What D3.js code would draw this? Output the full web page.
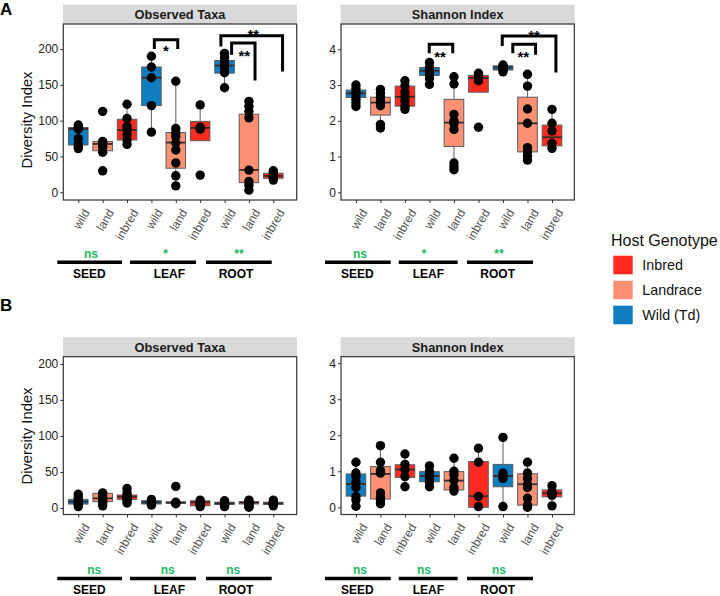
<!DOCTYPE html>
<html><head><meta charset="utf-8">
<script src="https://cdn.jsdelivr.net/npm/d3@7"></script>
<style>body{margin:0;background:#fff} svg{display:block;font-family:"Liberation Sans",Arial,sans-serif}</style>
</head><body><svg id="c" width="720" height="596"></svg>
<script>
// ---------- data ----------
const categories = ["wild","land","inbred","wild","land","inbred","wild","land","inbred"];
const tissues = ["SEED","LEAF","ROOT"];
const legendLabels = ["Inbred","Landrace","Wild (Td)"];
const legendKeys = ["inbred","land","wild"];
const panelTitles = ["Observed Taxa","Shannon Index"];
const obsTicks = [0,50,100,150,200];
const shanTicks = [0,1,2,3,4];
const sigA = ["ns","*","**"];
const sigB = ["ns","ns","ns"];

// Panel A – Observed Taxa
const aObsQ1  = [66, 58, 73, 121, 33.6, 72, 166.4, 13.4, 19.6];
const aObsMed = [88.5, 67.5, 87, 160, 69.4, 90, 177, 31.2, 22.8];
const aObsQ3  = [90.5, 71, 102, 175, 83.4, 99, 184, 109, 26.6];
const aObsLo  = [61, 56, 67, 84, 9, 72, 146, 3, 17];
const aObsHi  = [94, 71, 123, 190, 155, 122, 194, 127, 30];
const aObsPts = [[94,91,88,75,68,64,61],[113,71,68,66,63,56,30],[123,103,92,87,80,73,67],
  [190,175,160,121,84],[155,89,83,78,69,59,41,23,9],[122,91,88,24],
  [194,188,181,176,170,167,146],[127,120,113,104,31,15,10,3],[30,27,24,22,20,17]];
const aObsBrackets = [
  {x1:4.12,x2:5.08,top:213,l1:200,l2:200,label:"*",tx:4.59,ty:201.8},
  {x1:6.85,x2:9.38,top:218.6,l1:203.6,l2:168.7,label:"**",tx:8.18,ty:224.6},
  {x1:7.29,x2:8.25,top:208.4,l1:192,l2:156,label:"**",tx:7.81,ty:195}];

// Panel A – Shannon
const aShQ1  = [2.65, 2.16, 2.41, 3.27, 1.28, 2.8, 3.42, 1.13, 1.3];
const aShMed = [2.77, 2.51, 2.67, 3.4, 1.95, 3.2, 3.49, 1.93, 1.54];
const aShQ3  = [2.86, 2.66, 2.97, 3.49, 2.6, 3.27, 3.54, 2.66, 1.88];
const aShLo  = [2.4, 1.8, 2.32, 3.02, 0.63, 2.8, 3.37, 0.9, 1.23];
const aShHi  = [3.0, 2.88, 3.12, 3.63, 3.23, 3.33, 3.56, 3.3, 2.32];
const aShPts = [[3.0,2.9,2.8,2.7,2.6,2.5,2.4],[2.88,2.77,2.66,2.58,2.5,2.42,1.9,1.8],
  [3.12,2.98,2.8,2.67,2.55,2.41,2.32],[3.63,3.5,3.42,3.35,3.28,3.18,3.02],
  [3.23,3.03,2.18,2.0,1.92,1.76,0.82,0.72,0.63],[3.33,3.25,3.12,1.82],
  [3.56,3.52,3.49,3.46,3.42,3.37],[3.3,2.97,2.33,1.93,1.25,1.13,1.02,0.9],[2.32,1.93,1.72,1.37,1.23]];
const aShBrackets = [
  {x1:3.99,x2:4.95,top:4.14,l1:3.89,l2:3.89,label:"**",tx:4.43,ty:3.89},
  {x1:6.97,x2:9.16,top:4.37,l1:4.09,l2:3.35,label:"**",tx:8.27,ty:4.48},
  {x1:7.4,x2:8.33,top:4.14,l1:3.89,l2:3.85,label:"**",tx:7.83,ty:3.89}];

// Panel B – Observed Taxa
const bObsQ1  = [5.5, 8.8, 12, 5.6, 6.5, 3.2, 5, 5.6, 5];
const bObsMed = [8.8, 13.4, 15.7, 7.9, 7.5, 7.9, 6.5, 7.5, 6.5];
const bObsQ3  = [12, 20.4, 18, 10.2, 8.5, 10, 8, 8.8, 8];
const bObsLo  = [2, 3, 7, 3, 6, 2, 2, 1, 3];
const bObsHi  = [19, 21, 27, 12, 8.5, 11, 10, 11, 11];
const bObsPts = [[19,15,12,9,7,5,2],[21,18,15,12,10,7,3],[27,21,17,15,12,10,7],[12,9,8,6,4],
  [30,8,7,7,6],[11,8,6,4,2],[10,8,7,6,5,3,2],[11,9,8,7,6,4,2,1],[11,8,7,6,5,3]];

// Panel B – Shannon
const bShQ1  = [0.31, 0.23, 0.83, 0.71, 0.48, 0.0, 0.57, 0.06, 0.29];
const bShMed = [0.65, 0.925, 1.05, 0.87, 0.74, 0.31, 0.87, 0.64, 0.39];
const bShQ3  = [0.925, 1.13, 1.18, 0.99, 0.99, 1.27, 1.19, 0.93, 0.48];
const bShLo  = [0.03, 0.1, 0.57, 0.57, 0.45, 0.0, 0.02, 0.0, 0.04];
const bShHi  = [1.25, 1.71, 1.48, 1.15, 1.36, 1.64, 1.94, 1.25, 0.64];
const bShPts = [[1.25,0.95,0.85,0.7,0.55,0.3,0.2,0.03],[1.71,1.25,1.02,0.95,0.4,0.28,0.2,0.1],
  [1.48,1.19,1.05,0.85,0.57],[1.15,0.99,0.9,0.8,0.7,0.57],[1.36,1.0,0.9,0.75,0.55,0.45],
  [1.64,1.25,0.3,0.02],[1.94,0.95,0.88,0.8,0.02],[1.25,0.95,0.8,0.64,0.55,0.25,0.06,0.0],
  [0.6,0.45,0.38,0.33,0.04]];

// ---------- style ----------
const colors = {wild:"#0F7EC0", land:"#FE9173", inbred:"#FF2B20"};
const sigGreen = "#1DB863";
const FONT = "Liberation Sans, Arial, sans-serif";
const svg = d3.select("#c");

function drawPanel(o){
  const x = d3.scaleLinear().domain(o.xDomain).range([o.left, o.right]);
  const y = d3.scaleLinear().domain(o.yDomain).range([o.bottom, o.top]);
  const g = svg.append("g");
  // strip
  g.append("rect").attr("x",o.left).attr("y",o.top-19).attr("width",o.right-o.left).attr("height",19)
    .attr("fill","#D9D9D9").attr("stroke","#cfcfcf").attr("stroke-width",0.5);
  g.append("text").attr("x",(o.left+o.right)/2).attr("y",o.top-9.5).attr("dy","0.36em")
    .attr("text-anchor","middle").attr("font-size",12.8).attr("font-weight","bold").attr("fill","#1a1a1a").text(o.title);
  // y axis
  const ya = g.append("g").attr("transform",`translate(${o.left},0)`)
    .call(d3.axisLeft(y).tickValues(o.ticks).tickSize(3).tickPadding(2).tickFormat(d3.format("d")));
  ya.select(".domain").remove();
  ya.selectAll("line").attr("stroke","#333");
  ya.selectAll("text").attr("font-size",12).attr("fill","#222").attr("font-family",FONT);
  // x axis
  const idx = categories.map((c,i)=>i+1);
  const xa = g.append("g").attr("transform",`translate(0,${o.bottom})`)
    .call(d3.axisBottom(x).tickValues(idx).tickSize(3).tickFormat(i=>categories[i-1]));
  xa.select(".domain").remove();
  xa.selectAll("line").attr("stroke","#333");
  xa.selectAll("text").attr("font-size",12).attr("fill","#555").attr("font-family",FONT)
    .attr("text-anchor","end").attr("y",null)
    .attr("transform","translate(4,8) rotate(-60)").attr("dy","0.7em");
  const bw = 0.8*(x(2)-x(1));
  // whiskers
  idx.forEach((p,i)=>{
    g.append("line").attr("x1",x(p)).attr("x2",x(p)).attr("y1",y(o.hi[i])).attr("y2",y(o.q3[i])).attr("stroke","#6b6b6b").attr("stroke-width",1.1);
    g.append("line").attr("x1",x(p)).attr("x2",x(p)).attr("y1",y(o.lo[i])).attr("y2",y(o.q1[i])).attr("stroke","#6b6b6b").attr("stroke-width",1.1);
  });
  g.selectAll(".box").data(idx).enter().append("rect")
    .attr("x",p=>x(p)-bw/2).attr("width",bw)
    .attr("y",(p,i)=>y(o.q3[i])).attr("height",(p,i)=>Math.max(0.5,y(o.q1[i])-y(o.q3[i])))
    .attr("fill",(p,i)=>colors[categories[i]]).attr("stroke","#5a5a5a").attr("stroke-width",1);
  g.selectAll(".med").data(idx).enter().append("line")
    .attr("x1",p=>x(p)-bw/2).attr("x2",p=>x(p)+bw/2)
    .attr("y1",(p,i)=>y(o.med[i])).attr("y2",(p,i)=>y(o.med[i]))
    .attr("stroke","#3a2a2a").attr("stroke-width",1.8);
  idx.forEach((p,i)=>{
    g.selectAll(null).data(o.pts[i]).enter().append("circle")
      .attr("cx",x(p)).attr("cy",d=>y(d)).attr("r",4.7).attr("fill","#000");
  });
  // brackets
  (o.brackets||[]).forEach(b=>{
    const path = `M${x(b.x1)},${y(b.l1)}V${y(b.top)}H${x(b.x2)}V${y(b.l2)}`;
    g.append("path").attr("d",path).attr("fill","none").attr("stroke","#000").attr("stroke-width",3);
    g.append("text").attr("x",x(b.tx)).attr("y",y(b.ty)+8.7).attr("text-anchor","middle")
      .attr("font-size",15).attr("font-weight","bold").text(b.label);
  });
  // frame
  g.append("rect").attr("x",o.left).attr("y",o.top).attr("width",o.right-o.left).attr("height",o.bottom-o.top)
    .attr("fill","none").attr("stroke","#333").attr("stroke-width",1.2);
  // group annotations
  o.groups.forEach((gr,k)=>{
    g.append("line").attr("x1",gr.a).attr("x2",gr.b).attr("y1",o.lineY).attr("y2",o.lineY).attr("stroke","#000").attr("stroke-width",3.5);
    g.append("text").attr("x",gr.t).attr("y",o.lineY+11.5).attr("dy","0.36em").attr("text-anchor","middle")
      .attr("font-size",12).attr("font-weight","bold").attr("fill","#000").text(tissues[k]);
    g.append("text").attr("x",gr.s).attr("y",o.lineY-9).attr("dy","0.35em").attr("text-anchor","middle")
      .attr("font-size",12).attr("font-weight","bold").attr("fill",sigGreen).text(o.sig[k]);
  });
}

const leftX = {left:63.3,right:296.7,xDomain:[0.385,9.96]};
const rightX = {left:341,right:574.3,xDomain:[0.39,9.91]};
const leftGroups = [{a:57.3,b:122,t:89.3,s:91},{a:130,b:196,t:169.3,s:165.7},{a:206,b:271.7,t:236,s:239}];
const rightGroups = [{a:325,b:390.7,t:357.3,s:360},{a:398.7,b:457.7,t:428.3,s:424},{a:467,b:533,t:497.7,s:499}];
const leftGroupsB = [{a:57.3,b:122,t:89.3,s:94.3},{a:130,b:196,t:169.3,s:167.7},{a:206,b:271.7,t:236,s:233.3}];

drawPanel({...leftX,top:24,bottom:200,yDomain:[-10.77,235.0],ticks:obsTicks,title:panelTitles[0],
  q1:aObsQ1,med:aObsMed,q3:aObsQ3,lo:aObsLo,hi:aObsHi,pts:aObsPts,brackets:aObsBrackets,
  groups:leftGroups,lineY:262.3,sig:sigA});
drawPanel({...rightX,top:24,bottom:200,yDomain:[-0.215,4.707],ticks:shanTicks,title:panelTitles[1],
  q1:aShQ1,med:aShMed,q3:aShQ3,lo:aShLo,hi:aShHi,pts:aShPts,brackets:aShBrackets,
  groups:rightGroups,lineY:262.3,sig:sigA});
drawPanel({...leftX,top:356.7,bottom:514.5,yDomain:[-9,210],ticks:obsTicks,title:panelTitles[0],
  q1:bObsQ1,med:bObsMed,q3:bObsQ3,lo:bObsLo,hi:bObsHi,pts:bObsPts,
  groups:leftGroupsB,lineY:578.5,sig:sigB});
drawPanel({...rightX,top:356.7,bottom:514.5,yDomain:[-0.2,4.18],ticks:shanTicks,title:panelTitles[1],
  q1:bShQ1,med:bShMed,q3:bShQ3,lo:bShLo,hi:bShHi,pts:bShPts,
  groups:rightGroups,lineY:578.5,sig:sigB});

// y titles
[120,436].forEach(cy=>{
  svg.append("text").attr("transform",`translate(27,${cy}) rotate(-90)`).attr("dy","0.35em")
    .attr("text-anchor","middle").attr("font-size",14.8).attr("fill","#111").text("Diversity Index");
});
// panel letters
svg.append("text").attr("x",0).attr("y",15).attr("font-size",17).attr("font-weight","bold").text("A");
svg.append("text").attr("x",0).attr("y",311).attr("font-size",17).attr("font-weight","bold").text("B");

// legend
const lg = svg.append("g");
lg.append("text").attr("x",611).attr("y",240).attr("dy","0.35em").attr("font-size",16).attr("fill","#111").text("Host Genotype");
legendKeys.forEach((k,i)=>{
  lg.append("rect").attr("x",613.3).attr("y",255.7+i*25).attr("width",19.4).attr("height",18.6).attr("fill",colors[k]);
  lg.append("text").attr("x",642.3).attr("y",265+i*25).attr("dy","0.35em").attr("font-size",14.3).attr("fill","#111").text(legendLabels[i]);
});
</script></body></html>
